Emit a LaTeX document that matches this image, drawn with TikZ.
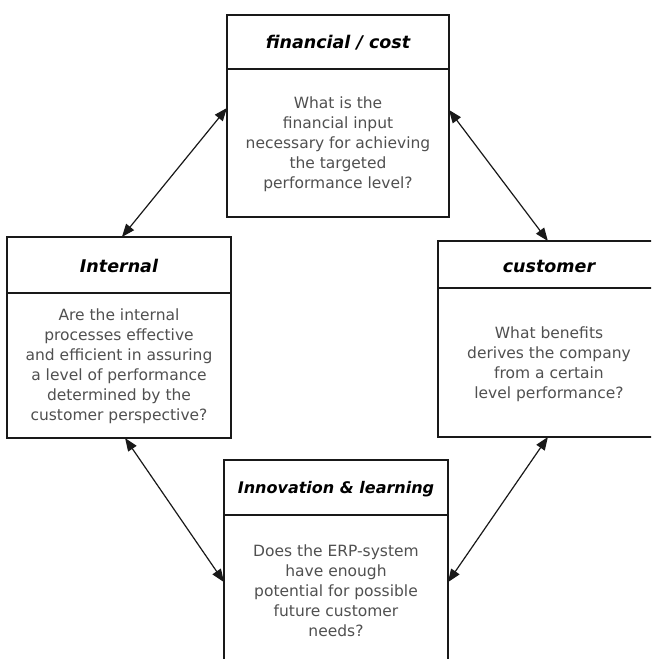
\documentclass[tikz,border=0pt]{standalone}
\usepackage{fontspec}
\setmainfont{DejaVu Sans}
\usetikzlibrary{arrows.meta,calc}
\definecolor{bodygray}{RGB}{80,80,80}
\definecolor{linedark}{RGB}{25,25,25}
\begin{document}
\begin{tikzpicture}[x=1pt,y=-1pt,
  box/.style={draw=linedark, line width=1.6pt, inner sep=0pt, outer sep=0pt, fill=white},
  divider/.style={draw=linedark, line width=1.6pt},
  titletext/.style={font=\fontsize{17.5}{20}\selectfont\bfseries\itshape, text=black, inner sep=0pt},
  bodytext/.style={font=\fontsize{15.5}{20}\selectfont, text=bodygray, align=center, inner sep=0pt},
  conn/.style={draw=linedark, line width=1.2pt, {Triangle[length=13pt,width=10pt]}-{Triangle[length=13pt,width=10pt]}}
]
\clip (0,0) rectangle (651,659);
\fill[white] (0,0) rectangle (651,659);

% boxes
\node[box, minimum width=222pt, minimum height=202pt] (fin) at (338,116) {};
\node[box, minimum width=224pt, minimum height=201pt] (int) at (119,337.5) {};
\node[box, minimum width=222pt, minimum height=196pt] (cus) at (549,339) {};
\node[box, minimum width=224pt, minimum height=207pt] (inn) at (336,563.5) {};

% header dividers
\draw[divider] ($(fin.north west)+(0,54)$) -- ($(fin.north east)+(0,54)$);
\draw[divider] ($(int.north west)+(0,56)$) -- ($(int.north east)+(0,56)$);
\draw[divider] ($(cus.north west)+(0,47)$) -- ($(cus.north east)+(0,47)$);
\draw[divider] ($(inn.north west)+(0,55)$) -- ($(inn.north east)+(0,55)$);

% titles
\node[titletext] (fint) at ($(fin.north)+(0,28)$) {financial / cost};
\node[titletext] (intt) at ($(int.north)+(0,29)$) {Internal};
\node[titletext] (cust) at ($(cus.north)+(0,25)$) {customer};
\node[titletext, font=\fontsize{16}{19}\selectfont\bfseries\itshape] (innt) at ($(inn.north)+(0,29)$) {Innovation \& learning};

% bodies
\node[bodytext] (finb) at ($(fin.north)+(0,129)$) {What is the\\financial input\\necessary for achieving\\the targeted\\performance level?};
\node[bodytext] (intb) at ($(int.north)+(0,129)$) {Are the internal\\processes effective\\and efficient in assuring\\a level of performance\\determined by the\\customer perspective?};
\node[bodytext] (cusb) at ($(cus.north)+(0,123)$) {What benefits\\derives the company\\from a certain\\level performance?};
\node[bodytext] (innb) at ($(inn.north)+(0,131)$) {Does the ERP-system\\have enough\\potential for possible\\future customer\\needs?};

% connectors
\draw[conn] ($(int.north west)!0.513!(int.north east)$) -- ($(fin.north west)!0.46!(fin.south west)$);
\draw[conn] ($(fin.north east)!0.47!(fin.south east)$) -- ($(cus.north west)!0.495!(cus.north east)$);
\draw[conn] ($(int.south west)!0.527!(int.south east)$) -- ($(inn.north west)!0.59!(inn.south west)$);
\draw[conn] ($(cus.south west)!0.495!(cus.south east)$) -- ($(inn.north east)!0.59!(inn.south east)$);
\end{tikzpicture}
\end{document}
